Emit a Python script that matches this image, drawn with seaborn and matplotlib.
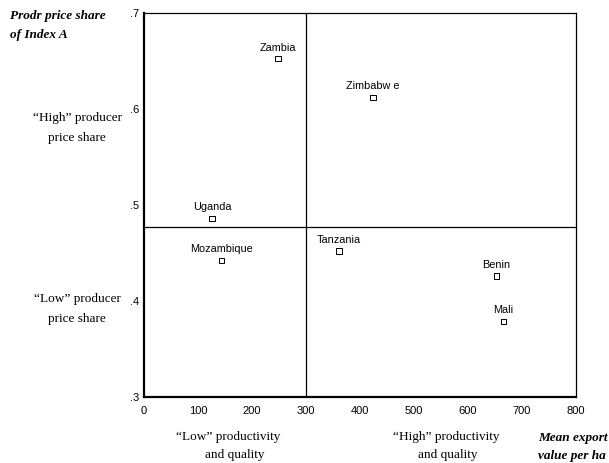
import matplotlib
matplotlib.use("Agg")
import matplotlib.pyplot as plt
import seaborn as sns
import pandas as pd

countries = ["Zambia", "Zimbabw e", "Uganda", "Mozambique", "Tanzania", "Benin", "Mali"]
export_value = [248, 424, 126, 144, 361, 653, 665]
price_share = [0.652, 0.612, 0.486, 0.442, 0.452, 0.426, 0.379]
x_ticks = [0, 100, 200, 300, 400, 500, 600, 700, 800]
y_ticks = [0.3, 0.4, 0.5, 0.6, 0.7]
y_tick_labels = [".3", ".4", ".5", ".6", ".7"]
x_ref = 300
y_ref = 0.477

df = pd.DataFrame({"country": countries, "x": export_value, "y": price_share})

sns.set_style("white")
plt.rcParams["font.family"] = ["Liberation Sans", "DejaVu Sans"]

fig = plt.figure(figsize=(6.09, 4.63), dpi=100)
ax = fig.add_axes([144/609, 1-397/463, (576-144)/609, (397-12.7)/463])

sns.scatterplot(data=df, x="x", y="y", ax=ax, marker="s", s=14,
                facecolor="none", edgecolor="black", linewidth=0.7, zorder=3)

for c, xv, yv in zip(countries, export_value, price_share):
    ax.annotate(c, (xv, yv), xytext=(0, 4.5), textcoords="offset points",
                ha="center", va="bottom", fontsize=7.8, color="black")

ax.axvline(x_ref, color="black", lw=0.9, zorder=1)
ax.axhline(y_ref, color="black", lw=0.9, zorder=1)

ax.set_xlim(0, 800)
ax.set_ylim(0.3, 0.7)
ax.set_xticks(x_ticks)
ax.set_xticklabels([str(t) for t in x_ticks])
ax.set_yticks(y_ticks)
ax.set_yticklabels(y_tick_labels)
ax.set_xlabel("")
ax.set_ylabel("")
ax.tick_params(axis="both", which="major", direction="out", length=2.2, width=2.4,
               color="black", labelsize=8, labelcolor="black")
ax.tick_params(axis="x", pad=4)
ax.tick_params(axis="y", pad=1)

for side in ["left", "bottom"]:
    ax.spines[side].set_linewidth(1.6)
    ax.spines[side].set_color("black")
for side in ["top", "right"]:
    ax.spines[side].set_linewidth(0.9)
    ax.spines[side].set_color("black")

serif = ["Liberation Serif", "DejaVu Serif"]
fs = 9.5

def ftext(px, py, s, **kw):
    fig.text(px/609, 1-py/463, s, family=serif, fontsize=fs, color="black", **kw)

ftext(10, 16, "Prodr price share", ha="left", va="center", weight="bold", style="italic")
ftext(10, 35, "of Index A", ha="left", va="center", weight="bold", style="italic")
ftext(77, 118, "\u201cHigh\u201d producer", ha="center", va="center")
ftext(77, 138, "price share", ha="center", va="center")
ftext(77, 299, "\u201cLow\u201d producer", ha="center", va="center")
ftext(77, 319, "price share", ha="center", va="center")
ftext(228, 437, "\u201cLow\u201d productivity", ha="center", va="center")
ftext(235, 455, "and quality", ha="center", va="center")
ftext(446, 437, "\u201cHigh\u201d productivity", ha="center", va="center")
ftext(448, 455, "and quality", ha="center", va="center")
ftext(538, 438, "Mean export", ha="left", va="center", weight="bold", style="italic")
ftext(538, 456, "value per ha", ha="left", va="center", weight="bold", style="italic")

fig.savefig("out.png", dpi=100)
